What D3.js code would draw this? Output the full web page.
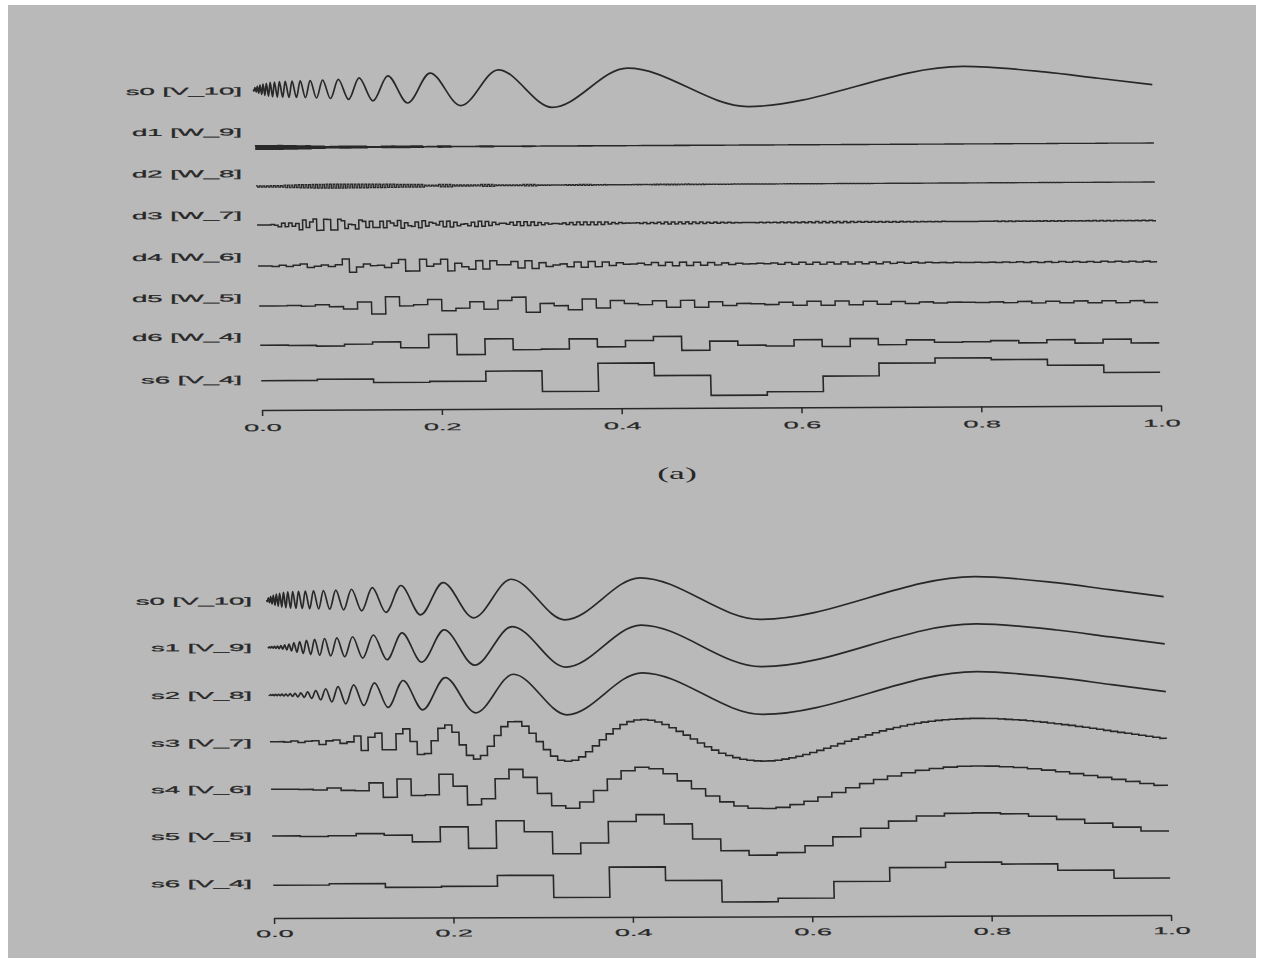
<!DOCTYPE html>
<html>
<head>
<meta charset="utf-8">
<title>Haar decomposition</title>
<script src="https://cdn.jsdelivr.net/npm/d3@7/dist/d3.min.js"></script>
<style>
  html, body { margin: 0; padding: 0; background: #ffffff; }
  svg { display: block; }
</style>
</head>
<body>
<svg id="chart" width="1263" height="965"></svg>
<script>
// ================= DATA =================
const xTicks = [0, 0.2, 0.4, 0.6, 0.8, 1.0];

// s0 / s1 / s2 look like smooth curves at this size: positions and values of their turning points
const extremaT = [0, .0006, .0019, .0032, .0045, .006, .0075, .0092, .0109, .0127, .0146,
  .0167, .0189, .0212, .0237, .0264, .0292, .0324, .0357, .0394, .0433, .0477, .0524,
  .0577, .0635, .07, .0773, .0855, .0948, .1056, .118, .1326, .15, .1711, .1971, .23,
  .2731, .3318, .4167, .55, .79, .88, .94, 1];
const s0Vals = [0, -.08, .10, -.13, .16, -.19, .22, -.25, .28, -.30, .32, -.34, .36, -.37,
  .38, -.39, .40, -.40, .41, -.41, .42, -.42, .43, -.43, .44, -.45, .46, -.48, .50, -.53,
  .57, -.61, .67, -.73, .80, -.88, .95, -.99, 1, -1, 1, .70, .36, .02];
const s1Vals = [0, -.02, .02, -.03, .03, -.04, .04, -.05, .06, -.07, .08, -.09, .11, -.13,
  .15, -.18, .21, -.24, .27, -.30, .33, -.35, .37, -.39, .41, -.42, .44, -.46, .49, -.53,
  .57, -.61, .67, -.73, .80, -.88, .95, -.99, 1, -1, 1, .70, .36, .02];
const s2Vals = [0, -.02, .02, -.02, .02, -.03, .03, -.03, .03, -.03, .04, -.04, .04, -.05,
  .06, -.07, .08, -.09, .10, -.12, .14, -.17, .20, -.24, .29, -.34, .39, -.43, .47, -.51,
  .56, -.61, .67, -.73, .80, -.88, .95, -.99, 1, -1, 1, .70, .36, .02];

// approximation levels (step values)
const s3Vals = [.00,.00,-.02,.03,-.04,.02,.04,-.14, .03,.07,-.09,-.02,.26,-.43,.20,.39,
  -.40,-.40,.36,.59,-.01,-.63,-.59,.02, .61,.77,.42,-.18,-.68,-.86,-.69,-.25,
  .26,.68,.91,.92,.70,.36,-.04,-.42, -.73,-.93,-.98,-.93,-.77,-.53,-.25,.04,
  .32,.56,.76,.90,.98,1.0,.96,.88, .76,.60,.43,.25,.06,-.13,-.31,-.47,
  -.62,-.73,-.83,-.91,-.96,-.99,-1.0,-.99, -.96,-.91,-.85,-.78,-.69,-.60,-.50,-.40,
  -.29,-.18,-.07,.03,.13,.23,.33,.42, .50,.58,.65,.72,.78,.83,.87,.91,
  .94,.96,.98,.99,1.0,1.0,.99,.99, .97,.95,.93,.91,.88,.84,.81,.77,
  .73,.69,.65,.60,.56,.51,.46,.41, .36,.31,.27,.22,.17,.12,.07,.02];
const s4Vals = [.00,.00,-.01,-.04,.05,-.06,-.08,.29, -.40,.47,-.32,-.28,.69,.12,-.77,-.48,
  .47,.91,.53,-.24,-.83,-.95,-.65,-.11, .44,.83,.99,.92,.68,.34,-.04,-.39,
  -.67,-.87,-.98,-.99,-.94,-.81,-.65,-.45, -.24,-.02,.18,.37,.54,.69,.80,.89,
  .95,.99,1.0,.99,.96,.92,.86,.79, .71,.62,.53,.44,.34,.24,.14,.05];
const s5Vals = [.00,-.03,.00,.10,.02,-.30,.41,-.62, .69,.16,-.89,-.38,.64,.96,.51,-.21,
  -.77,-.99,-.87,-.55,-.13,.28,.61,.85, .97,.99,.94,.82,.67,.48,.29,.10];
const s6Vals = [-.01,.05,-.13,-.09,.42,-.64,.80,.15,-.88,-.71,.08,.73,.98,.88,.58,.19];

// detail levels (Haar coefficients)
const d3Vals = [.00,.00,.02,-.09,-.09,-.07,-.25,-.14, .29,-.28,.27,-.28,.20,.01,-.23,.16,
  .16,-.16,-.17,.07,.20,.08,-.11,-.18, -.10,.04,.14,.15,.09,-.01,-.09,-.13,
  -.12,-.08,-.03,.03,.08,.10,.10,.09, .06,.03,.00,-.03,-.05,-.07,-.07,-.07,
  -.07,-.06,-.04,-.03,-.01,.00,.02,.03, .03,.04,.05,.05,.05,.05,.04,.04,
  .03,.03,.02,.02,.01,.00,.00,-.01, -.01,-.01,-.02,-.02,-.02,-.02,-.03,-.03,
  -.03,-.03,-.03,-.03,-.03,-.02,-.02,-.02, -.02,-.02,-.02,-.02,-.01,-.01,-.01,-.01,
  -.01,-.01,.00,.00,.00,.00,.00,.00, .00,.01,.01,.01,.01,.01,.01,.01,
  .01,.01,.01,.01,.01,.01,.01,.01, .01,.01,.01,.01,.01,.01,.01,.01];
const d4Vals = [.00,-.03,-.03,.09,-.03,-.04,.34,-.08, -.01,-.11,.30,-.30,-.06,.30,.09,-.22,
  -.21,.00,.17,.20,.10,-.03,-.12,-.15, -.12,-.07,-.01,.04,.08,.09,.09,.08,
  .06,.04,.02,-.01,-.02,-.04,-.05,-.05, -.05,-.05,-.05,-.04,-.04,-.03,-.03,-.02,
  -.01,-.01,.00,.01,.01,.01,.02,.02, .02,.02,.02,.02,.02,.02,.02,.02];
const d5Vals = [.00,.02,.05,-.18,-.44,-.03,.29,-.16, -.22,.39,.06,-.27,-.19,.03,.17,.18,
  .10,.01,-.06,-.10,-.11,-.09,-.07,-.04, -.02,.01,.02,.04,.04,.05,.05,.05];
const d6Vals = [.01,-.045,.15,.52,.28,-.26,-.16,.36,.11,-.16,-.20,-.12,-.01,.06,.09,.10];

// d1, d2: too dense to read one by one -> coefficient size per 1/64 block
const d1Block = [.10,.10,.09,.08,.06,.035,.05,.045, .02,.045,.04,.04,.01,.035,.01,.01,
  .025,.008,.008,.02,.006,.006,.008,.015, .006,.006,.006,.006,.008,.01,.01,.008,
  .006,.006,.006,.006,.006,.006,.006,.006, .005,.005,.005,.005,.005,.005,.005,.005,
  .004,.004,.004,.004,.004,.004,.004,.004, .003,.003,.003,.003,.003,.003,.003,.003];
const d2Block = [.03,.04,.07,.085,.10,.105,.10,.10, .09,.085,.075,.07,.03,.065,.03,.03,
  .055,.02,.02,.04,.015,.01,.02,.03, .015,.008,.008,.01,.015,.02,.02,.015,
  .01,.008,.008,.008,.007,.007,.007,.007, .006,.006,.006,.006,.006,.006,.006,.006,
  .005,.005,.005,.005,.005,.005,.005,.005, .004,.004,.004,.004,.004,.004,.004,.004];

const topLabels = ["s0 [V_10]", "d1 [W_9]", "d2 [W_8]", "d3 [W_7]", "d4 [W_6]", "d5 [W_5]", "d6 [W_4]", "s6 [V_4]"];
const bottomLabels = ["s0 [V_10]", "s1 [V_9]", "s2 [V_8]", "s3 [V_7]", "s4 [V_6]", "s5 [V_5]", "s6 [V_4]"];
const captionA = "(a)";

// ================= DRAWING =================
const ink = "#282828";
const svg = d3.select("#chart");
svg.append("rect").attr("x", 0).attr("y", 0).attr("width", 1263).attr("height", 965).attr("fill", "#ffffff");
svg.append("rect").attr("x", 8).attr("y", 5).attr("width", 1248).attr("height", 953).attr("fill", "#b9b9b9");

const series = {
  s0: { kind: "smooth", t: extremaT, v: s0Vals },
  s1: { kind: "smooth", t: extremaT, v: s1Vals },
  s2: { kind: "smooth", t: extremaT, v: s2Vals },
  s3: { kind: "step", v: s3Vals },
  s4: { kind: "step", v: s4Vals },
  s5: { kind: "step", v: s5Vals },
  s6: { kind: "step", v: s6Vals },
  d1: { kind: "pulse", v: d3.range(512).map(i => d1Block[Math.floor(i * d1Block.length / 512)]) },
  d2: { kind: "pulse", v: d3.range(256).map(i => d2Block[Math.floor(i * d2Block.length / 256)]) },
  d3: { kind: "pulse", v: d3Vals },
  d4: { kind: "pulse", v: d4Vals },
  d5: { kind: "pulse", v: d5Vals },
  d6: { kind: "pulse", v: d6Vals }
};

const panels = [
  { x0: 262, x1: 1161, axisY: 410, shear: 1.55, tilt: -0.29, labelX: 242, tickPad: 8, gain: 19.5,
    rows: [
      { key: "s0", label: topLabels[0], y: 89.5, ly: 90.7, w: 1.7 },
      { key: "d1", label: topLabels[1], y: 147.5, ly: 131.7, w: 1.2 },
      { key: "d2", label: topLabels[2], y: 186.5, ly: 173.3, w: 1.2 },
      { key: "d3", label: topLabels[3], y: 225, ly: 215, w: 1.5 },
      { key: "d4", label: topLabels[4], y: 266, ly: 256.7, w: 1.5 },
      { key: "d5", label: topLabels[5], y: 306, ly: 297.7, w: 1.5 },
      { key: "d6", label: topLabels[6], y: 345.5, ly: 336.7, w: 1.6 },
      { key: "s6", label: topLabels[7], y: 380.5, ly: 379.3, w: 1.6 }
    ] },
  { x0: 274, x1: 1171, axisY: 918, shear: 1.32, tilt: -0.19, labelX: 252, tickPad: 6, gain: 21,
    rows: [
      { key: "s0", label: bottomLabels[0], y: 600, ly: 600.7, w: 1.7 },
      { key: "s1", label: bottomLabels[1], y: 647.3, ly: 647.3, w: 1.7 },
      { key: "s2", label: bottomLabels[2], y: 695, ly: 695, w: 1.7 },
      { key: "s3", label: bottomLabels[3], y: 741.7, ly: 742.7, w: 1.6 },
      { key: "s4", label: bottomLabels[4], y: 789.3, ly: 789.3, w: 1.6 },
      { key: "s5", label: bottomLabels[5], y: 836, ly: 836, w: 1.6 },
      { key: "s6", label: bottomLabels[6], y: 885, ly: 883.3, w: 1.6 }
    ] }
];

function pointsOf(s) {
  if (s.kind === "smooth") return s.t.map((t, i) => [t, s.v[i]]);
  const n = s.v.length, pts = [];
  if (s.kind === "step") {
    s.v.forEach((v, i) => pts.push([i / n, v]));
    pts.push([1, s.v[n - 1]]);
  } else {
    s.v.forEach((c, i) => { pts.push([i / n, c]); pts.push([(i + 0.5) / n, -c]); });
    pts.push([1, -s.v[n - 1]]);
  }
  return pts;
}

panels.forEach(p => {
  const x = d3.scaleLinear().domain([0, 1]).range([p.x0, p.x1]);
  const outer = svg.append("g")
    .attr("transform", `translate(${p.x0},0) skewY(${p.tilt}) translate(${-p.x0},0)`);
  const g = outer.append("g")
    .attr("transform", `translate(0,${p.axisY}) skewX(${p.shear}) translate(0,${-p.axisY})`);

  p.rows.forEach(r => {
    const s = series[r.key];
    const y = d3.scaleLinear().domain([-1, 1]).range([r.y + p.gain, r.y - p.gain]);
    const line = d3.line()
      .x(d => x(d[0])).y(d => y(d[1]))
      .curve(s.kind === "smooth" ? d3.curveMonotoneX : d3.curveStepAfter);
    g.append("path")
      .attr("d", line(pointsOf(s)))
      .attr("fill", "none")
      .attr("stroke", ink)
      .attr("stroke-width", r.w)
      .attr("stroke-linejoin", s.kind === "smooth" ? "round" : "miter");
    outer.append("text")
      .attr("transform", `translate(${p.labelX},${r.ly}) scale(2.75,1)`)
      .attr("text-anchor", "end")
      .attr("dominant-baseline", "central")
      .attr("font-family", "'Liberation Sans', Arial, sans-serif")
      .attr("font-size", 10)
      .attr("fill", ink)
      .attr("stroke", ink)
      .attr("stroke-width", 0.25)
      .text(r.label);
  });

  const axis = d3.axisBottom(x).tickValues(xTicks).tickSize(6).tickSizeOuter(0)
    .tickPadding(p.tickPad).tickFormat(d3.format(".1f"));
  const ag = g.append("g").attr("transform", `translate(0,${p.axisY})`).call(axis);
  ag.attr("font-family", "'Liberation Sans', Arial, sans-serif").attr("font-size", 10);
  ag.select(".domain").attr("stroke", ink).attr("stroke-width", 1.5);
  ag.selectAll(".tick line").attr("stroke", ink).attr("stroke-width", 1.5);
  ag.selectAll(".tick text").attr("fill", ink).attr("stroke", ink).attr("stroke-width", 0.2)
    .attr("transform", "scale(2.7,1)");
});

svg.append("text")
  .attr("transform", "translate(677,479) scale(2.1,1)")
  .attr("text-anchor", "middle")
  .attr("font-family", "'Liberation Serif', 'Times New Roman', serif")
  .attr("font-size", 17)
  .attr("fill", ink)
  .text(captionA);
</script>
</body>
</html>
